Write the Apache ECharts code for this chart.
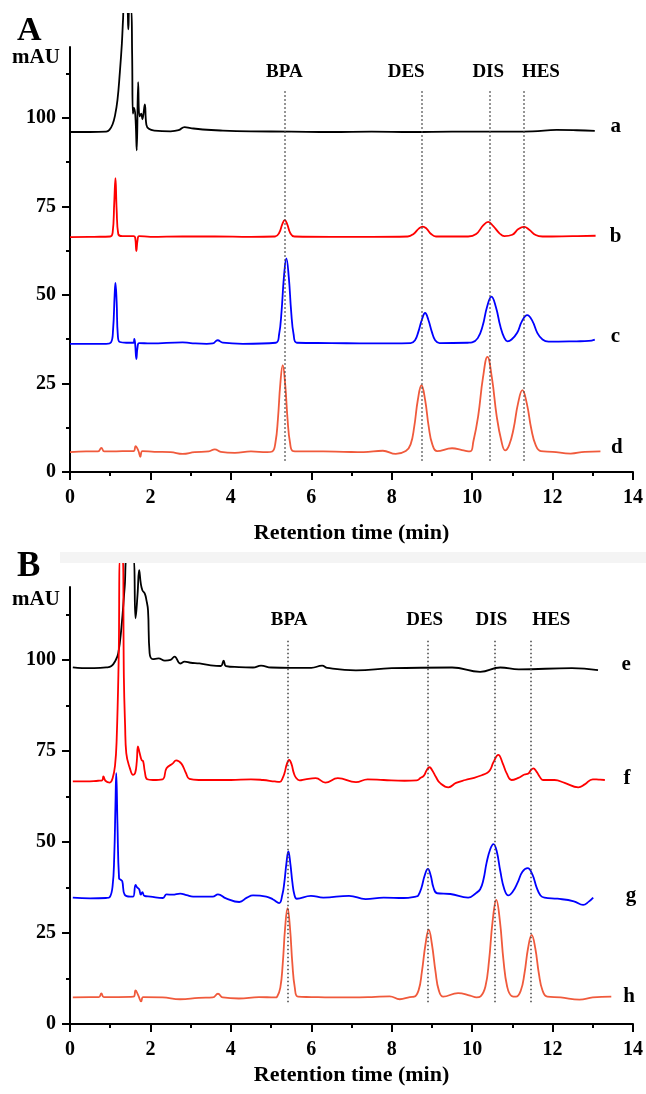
<!DOCTYPE html>
<html>
<head>
<meta charset="utf-8">
<script src="https://cdn.jsdelivr.net/npm/echarts@6/dist/echarts.min.js"></script>
<style>
  html, body { margin: 0; padding: 0; background: #fff; }
  #chart { width: 646px; height: 1094px; }
</style>
</head>
<body>
<div id="chart"></div>
<script>
// chromatogram traces, [time (min), signal (mAU)]
const curveA = [[0,96.0],[0.5,96.0],[0.9,96.1],[0.98,96.6],[1.06,98.2],[1.12,100.7],[1.18,105],[1.24,112.9],[1.29,121],[1.32,128],[1.34,131],[1.42,131],[1.45,125],[1.48,131],[1.52,131],[1.545,118],[1.565,101.2],[1.59,102.8],[1.625,100.6],[1.66,90.8],[1.695,110.1],[1.73,100.4],[1.77,101.2],[1.8,99.6],[1.86,103.8],[1.9,98.0],[1.96,96.9],[2.1,96.4],[2.5,96.2],[2.7,96.5],[2.85,97.4],[3.0,97.1],[3.3,96.7],[3.8,96.4],[4.5,96.2],[5.5,96.1],[6.5,96.0],[7.5,96.1],[8.5,96.0],[9.5,96.1],[10.5,96.1],[11.5,96.2],[12.1,96.6],[12.6,96.5],[13.05,96.3]];
const curveB = [[0,66.3],[0.6,66.4],[1.0,66.5],[1.06,67.5],[1.1,76],[1.13,83],[1.16,74],[1.2,67.2],[1.3,66.6],[1.58,66.6],[1.62,66.2],[1.65,62.4],[1.68,65.5],[1.72,66.6],[2.0,66.4],[2.8,66.5],[3.6,66.5],[4.5,66.4],[5.1,66.5],[5.2,67.5],[5.28,70.0],[5.34,71.1],[5.4,70.0],[5.48,67.4],[5.58,66.5],[6.5,66.4],[7.5,66.4],[8.4,66.5],[8.55,67.3],[8.68,68.8],[8.77,69.3],[8.86,68.8],[8.98,67.2],[9.1,66.5],[9.9,66.5],[10.1,67.2],[10.28,69.7],[10.4,70.6],[10.52,69.5],[10.68,67.4],[10.8,66.6],[11.0,67.0],[11.15,68.6],[11.29,69.2],[11.42,68.4],[11.58,66.9],[11.75,66.5],[12.5,66.6],[13.07,66.7]];
const curveC = [[0,36.2],[0.9,36.2],[1.02,36.6],[1.07,40],[1.11,50],[1.13,53.4],[1.16,48],[1.19,38.5],[1.24,36.7],[1.4,36.5],[1.58,36.5],[1.6,37.6],[1.62,36.2],[1.65,31.9],[1.68,35.3],[1.72,36.4],[2.0,36.3],[2.8,36.6],[3.0,36.4],[3.4,36.2],[3.55,36.3],[3.67,37.2],[3.8,36.5],[4.3,36.2],[5.12,36.5],[5.2,38.9],[5.26,45.3],[5.32,55.1],[5.38,60.3],[5.44,55.1],[5.5,45.3],[5.56,38.9],[5.64,36.5],[6.5,36.4],[7.5,36.3],[8.47,36.4],[8.58,37.2],[8.66,39.5],[8.75,43.0],[8.83,44.9],[8.91,43.0],[9.0,39.5],[9.08,37.2],[9.19,36.4],[9.9,36.5],[10.0,36.6],[10.14,37.8],[10.26,41.2],[10.37,46.6],[10.48,49.5],[10.59,46.6],[10.7,41.2],[10.8,37.9],[10.88,36.9],[10.98,37.4],[11.12,39.3],[11.24,42.6],[11.37,44.3],[11.5,42.6],[11.62,39.3],[11.75,37.4],[11.9,36.8],[12.6,36.9],[12.9,37.0],[13.05,37.4]];
const curveD = [[0,5.6],[0.4,5.8],[0.7,5.8],[0.78,6.8],[0.85,5.8],[1.0,5.8],[1.3,5.9],[1.58,5.9],[1.63,7.3],[1.7,6.0],[1.75,4.3],[1.8,5.9],[2.1,5.7],[2.5,5.6],[2.8,5.1],[3.1,5.6],[3.45,5.8],[3.6,6.4],[3.75,5.7],[4.1,5.4],[4.5,5.8],[4.9,5.6],[5.03,5.8],[5.11,8.4],[5.17,14.9],[5.23,24.9],[5.29,30.2],[5.35,24.9],[5.41,14.9],[5.47,8.4],[5.55,5.9],[5.8,5.8],[6.3,5.8],[6.8,5.7],[7.3,5.6],[7.78,6.0],[8.1,5.1],[8.35,5.9],[8.47,7.8],[8.56,12.8],[8.65,20.4],[8.74,24.5],[8.83,20.4],[8.92,12.8],[9.01,7.8],[9.13,5.9],[9.5,6.7],[9.75,6.2],[9.95,5.8],[10.03,8.6],[10.15,15.8],[10.27,26.7],[10.38,32.5],[10.49,26.7],[10.61,15.8],[10.73,8.6],[10.82,6.1],[10.92,7.6],[11.03,12.2],[11.14,19.3],[11.25,23.1],[11.36,19.3],[11.47,12.2],[11.58,7.6],[11.71,5.9],[12.0,5.7],[12.45,5.2],[12.8,5.7],[13.19,5.8]];

const curveE = [[0.07,97.9],[0.3,97.7],[0.6,97.7],[0.9,97.9],[1.03,98.3],[1.13,99.8],[1.2,101.8],[1.28,109],[1.36,120],[1.42,128],[1.57,128],[1.63,111.4],[1.68,118],[1.72,124.6],[1.76,121],[1.8,119.1],[1.86,118.2],[1.9,116.4],[1.94,113.6],[1.98,101.8],[2.06,100.2],[2.2,100.4],[2.36,99.8],[2.5,100.0],[2.6,100.9],[2.74,99.0],[2.85,99.5],[3.0,99.2],[3.22,99.0],[3.5,98.5],[3.75,98.3],[3.82,99.8],[3.88,98.3],[4.2,98.0],[4.55,97.9],[4.75,98.4],[5.0,97.9],[5.5,97.8],[6.0,97.8],[6.27,98.4],[6.4,97.8],[7.11,97.1],[8.0,97.7],[9.5,97.9],[10.2,96.7],[10.7,97.9],[11.16,97.4],[12.48,97.7],[13.13,97.2]];
const curveF = [[0.07,66.6],[0.4,66.6],[0.7,66.8],[0.8,66.9],[0.83,68.0],[0.88,66.8],[0.99,66.3],[1.06,67.5],[1.12,71],[1.16,78],[1.21,99.9],[1.25,128],[1.31,128],[1.34,95],[1.37,82],[1.4,74.3],[1.49,70.2],[1.57,68.4],[1.62,68.9],[1.66,72],[1.69,76.2],[1.73,74.5],[1.78,72.5],[1.82,72.1],[1.86,69.3],[1.92,67.2],[2.06,67.0],[2.3,67.2],[2.4,70.2],[2.55,71.5],[2.64,72.4],[2.77,71.5],[2.88,69.0],[2.97,67.3],[3.2,67.0],[3.6,67.0],[4.0,67.0],[4.5,67.2],[4.8,67.0],[5.1,66.6],[5.22,66.5],[5.29,67.6],[5.34,69.1],[5.39,71.3],[5.45,72.5],[5.51,71.3],[5.56,69.1],[5.62,67.6],[5.71,66.9],[5.85,67.2],[6.11,67.5],[6.35,66.3],[6.66,67.5],[7.11,66.4],[7.4,67.2],[7.8,67.0],[8.32,66.8],[8.62,66.9],[8.72,67.6],[8.8,68.2],[8.87,69.7],[8.94,70.5],[9.01,69.6],[9.1,67.8],[9.2,66.2],[9.41,65.0],[9.6,66.2],[9.83,67.0],[10.05,67.6],[10.24,68.3],[10.38,69.0],[10.45,69.8],[10.53,71.9],[10.65,73.9],[10.76,71.6],[10.86,68.8],[10.98,67.0],[11.15,67.6],[11.3,68.5],[11.4,68.8],[11.46,69.7],[11.52,70.2],[11.6,69.3],[11.68,67.9],[11.76,67.0],[12.05,67.0],[12.3,66.2],[12.64,65.0],[12.8,65.8],[13.0,67.2],[13.15,67.1],[13.3,67.0]];
const curveG = [[0.07,34.7],[0.5,34.5],[0.9,34.6],[0.99,34.9],[1.06,38],[1.1,46],[1.13,60],[1.15,68.9],[1.18,55],[1.22,40],[1.26,39.6],[1.3,39.2],[1.36,35.5],[1.5,35.0],[1.57,35.0],[1.63,38.2],[1.67,37.5],[1.72,37.0],[1.76,35.5],[1.8,36.2],[1.85,35.2],[2.0,35.0],[2.31,34.6],[2.4,35.6],[2.55,35.5],[2.74,35.8],[2.9,35.4],[3.06,35.0],[3.4,35.0],[3.55,35.0],[3.68,35.6],[3.88,34.5],[4.21,33.5],[4.4,34.7],[4.55,35.3],[4.88,35.0],[5.05,34.2],[5.2,33.2],[5.28,35.5],[5.33,38.9],[5.38,44.0],[5.43,47.4],[5.48,44.0],[5.53,38.9],[5.58,35.5],[5.64,34.4],[5.99,35.2],[6.3,34.7],[6.94,35.2],[7.35,34.3],[7.8,34.7],[8.3,34.6],[8.6,35.0],[8.66,35.3],[8.74,37.4],[8.82,40.8],[8.9,42.6],[8.97,40.8],[9.04,37.4],[9.13,35.9],[9.46,35.7],[9.9,34.7],[10.1,36.0],[10.2,37.0],[10.28,39.6],[10.36,44.3],[10.45,48.0],[10.53,49.4],[10.61,47.5],[10.7,42.0],[10.8,37.0],[10.9,35.3],[11.02,36.5],[11.13,38.8],[11.25,41.8],[11.38,42.8],[11.5,41.0],[11.6,37.6],[11.7,35.3],[11.8,34.7],[12.12,34.4],[12.53,33.7],[12.76,32.7],[12.9,33.6],[13.01,34.7]];
const curveH = [[0.07,7.3],[0.5,7.4],[0.72,7.4],[0.78,8.4],[0.84,7.4],[1.2,7.4],[1.58,7.5],[1.63,9.2],[1.7,7.8],[1.77,6.2],[1.82,7.4],[2.3,7.3],[2.74,6.8],[3.2,7.2],[3.55,7.3],[3.68,8.3],[3.8,7.3],[4.2,7.0],[4.7,7.4],[5.1,7.3],[5.15,7.5],[5.23,10.0],[5.29,16.5],[5.35,26.5],[5.41,31.8],[5.47,26.5],[5.53,16.5],[5.59,10.0],[5.67,7.5],[6.0,7.4],[6.5,7.3],[7.0,7.3],[7.5,7.4],[7.95,7.6],[8.2,6.8],[8.45,7.4],[8.56,7.5],[8.67,9.3],[8.75,14.3],[8.84,21.9],[8.92,25.9],[9.0,21.9],[9.09,14.3],[9.17,9.3],[9.28,7.5],[9.65,8.5],[9.95,7.8],[10.11,7.3],[10.21,7.6],[10.33,10.3],[10.42,17.4],[10.51,28.3],[10.6,34.1],[10.69,28.3],[10.78,17.4],[10.87,10.3],[10.98,7.7],[11.09,7.5],[11.21,9.2],[11.3,13.8],[11.39,20.8],[11.48,24.5],[11.57,20.8],[11.66,13.8],[11.75,9.2],[11.87,7.5],[12.2,7.3],[12.67,6.7],[13.0,7.3],[13.46,7.5]];

// analytes and their retention times (dotted guides)
const peakNames = ['BPA', 'DES', 'DIS', 'HES'];
const peakTimesA = [5.33, 8.75, 10.43, 11.28];
const peakTimesB = [5.41, 8.89, 10.55, 11.46];
const guideSpanA = [3.2, 107.5];
const guideSpanB = [6.0, 105.5];
const peakLabelSpotsA = [[5.33, 112.8], [8.36, 112.8], [10.40, 112.8], [11.71, 112.8]];
const peakLabelSpotsB = [[5.45, 110.9], [8.82, 110.9], [10.48, 110.9], [11.97, 110.9]];

// trace letters
const traceTagsA = [['a', 13.57, 97.5], ['b', 13.57, 66.4], ['c', 13.56, 38.2], ['d', 13.6, 6.8]];
const traceTagsB = [['e', 13.83, 98.7], ['f', 13.85, 67.4], ['g', 13.95, 35.4], ['h', 13.9, 7.5]];

// axis ticks
const yTicks = [0, 25, 50, 75, 100];
const yMinorTicks = [12.5, 37.5, 62.5, 87.5, 112.5];

const chart = echarts.init(document.getElementById('chart'));
const serif = 'Liberation Serif';
const black = '#000000', red = '#ff0000', blue = '#0000ff', orange = '#f05a3c';

function xAxisFor(gridIndex, nameGap) {
  return {
    gridIndex, type: 'value', min: 0, max: 14, interval: 2,
    axisLine: { onZero: false, lineStyle: { color: black, width: 2 } },
    axisTick: { length: 8, lineStyle: { color: black, width: 2 } },
    minorTick: { show: true, splitNumber: 2, length: 4, lineStyle: { color: black, width: 2 } },
    splitLine: { show: false },
    axisLabel: { margin: 16, color: black, fontFamily: serif, fontWeight: 'bold', fontSize: 20 },
    name: 'Retention time (min)', nameLocation: 'middle', nameGap,
    nameTextStyle: { color: black, fontFamily: serif, fontWeight: 'bold', fontSize: 22 }
  };
}

function yAxesFor(gridIndex) {
  return [
    {
      gridIndex, type: 'value', position: 'left', min: 0, max: 120,
      axisLine: { show: true, lineStyle: { color: black, width: 2 } },
      axisTick: { show: true, length: 8, customValues: yTicks, lineStyle: { color: black, width: 2 } },
      axisLabel: { customValues: yTicks, margin: 14, color: black, fontFamily: serif, fontWeight: 'bold', fontSize: 20 },
      splitLine: { show: false }
    },
    {
      gridIndex, type: 'value', position: 'left', min: 0, max: 120,
      axisLine: { show: false },
      axisTick: { show: true, length: 4, customValues: yMinorTicks, lineStyle: { color: black, width: 2 } },
      axisLabel: { show: false },
      splitLine: { show: false }
    }
  ];
}

function trace(data, color, xi, yi) {
  return {
    type: 'line', xAxisIndex: xi, yAxisIndex: yi, data,
    symbol: 'none', showSymbol: false, smooth: 0.45,
    clip: false, silent: true,
    lineStyle: { color, width: 1.8 }
  };
}

function guides(times, span, xi, yi) {
  return {
    type: 'line', xAxisIndex: xi, yAxisIndex: yi, data: [],
    markLine: {
      silent: true, symbol: ['none', 'none'], label: { show: false },
      lineStyle: { color: '#444', width: 1.5, type: [1.5, 2.5] },
      data: times.map(t => [{ coord: [t, span[0]] }, { coord: [t, span[1]] }])
    },
    z: 3
  };
}

function tags(points, xi, yi, size) {
  return {
    type: 'scatter', xAxisIndex: xi, yAxisIndex: yi,
    data: points.map(p => [p[1], p[2], p[0]]),
    symbolSize: 1, itemStyle: { color: 'rgba(0,0,0,0)', opacity: 1 }, silent: true, clip: false,
    label: {
      show: true, position: 'inside', formatter: p => p.data[2],
      color: black, fontFamily: serif, fontWeight: 'bold', fontSize: size, opacity: 1
    },
    z: 5
  };
}

const peakLabelsA = peakNames.map((n, i) => [n, peakLabelSpotsA[i][0], peakLabelSpotsA[i][1]]);
const peakLabelsB = peakNames.map((n, i) => [n, peakLabelSpotsB[i][0], peakLabelSpotsB[i][1]]);

const option = {
  animation: false,
  backgroundColor: '#ffffff',
  grid: [
    { left: 70, right: 12, top: 47, height: 425 },
    { left: 70, right: 11, top: 587, height: 437 }
  ],
  xAxis: [xAxisFor(0, 50), xAxisFor(1, 40)],
  yAxis: [...yAxesFor(0), ...yAxesFor(1)],
  series: [
    guides(peakTimesA, guideSpanA, 0, 0),
    trace(curveA, black, 0, 0),
    trace(curveB, red, 0, 0),
    trace(curveC, blue, 0, 0),
    trace(curveD, orange, 0, 0),
    tags(peakLabelsA, 0, 0, 19),
    tags(traceTagsA, 0, 0, 21),

    guides(peakTimesB, guideSpanB, 1, 2),
    trace(curveE, black, 1, 2),
    trace(curveF, red, 1, 2),
    trace(curveG, blue, 1, 2),
    trace(curveH, orange, 1, 2),
    tags(peakLabelsB, 1, 2, 19),
    tags(traceTagsB, 1, 2, 21)
  ],
  graphic: [
    { type: 'rect', shape: { x: 90, y: 0, width: 70, height: 13 }, style: { fill: '#ffffff' }, z: 100 },
    { type: 'rect', shape: { x: 60, y: 552, width: 586, height: 11 }, style: { fill: '#f4f4f4' }, z: 100 },
    { type: 'text', style: { text: 'A', x: 17, y: 31, verticalAlign: 'middle', font: 'bold 34px "Liberation Serif"', fill: black }, z: 101 },
    { type: 'text', style: { text: 'mAU', x: 12, y: 58, verticalAlign: 'middle', font: 'bold 21px "Liberation Serif"', fill: black }, z: 101 },
    { type: 'text', style: { text: 'B', x: 17, y: 567, verticalAlign: 'middle', font: 'bold 35px "Liberation Serif"', fill: black }, z: 101 },
    { type: 'text', style: { text: 'mAU', x: 12, y: 600, verticalAlign: 'middle', font: 'bold 21px "Liberation Serif"', fill: black }, z: 101 }
  ]
};

chart.setOption(option);
</script>
</body>
</html>
